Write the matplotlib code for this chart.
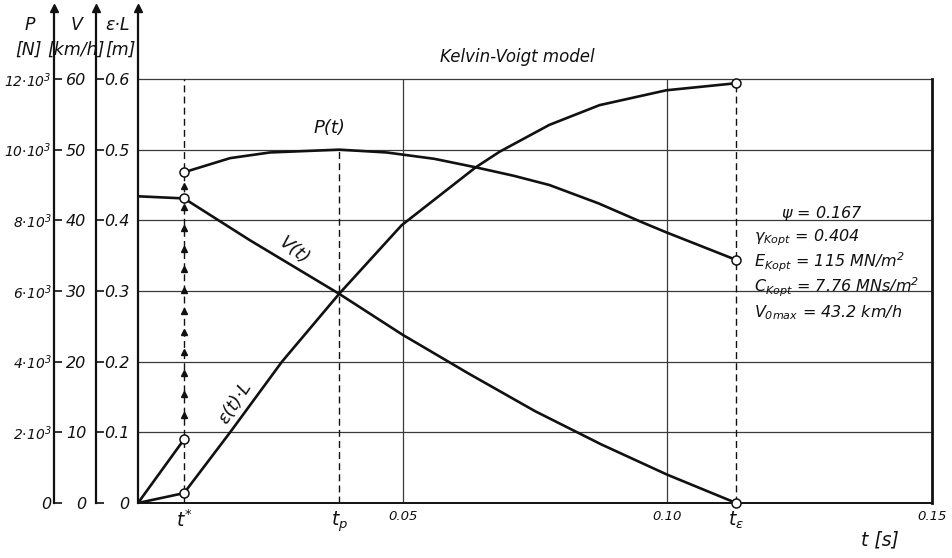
import numpy as np
import matplotlib
matplotlib.use("Agg")
import matplotlib.pyplot as plt
from matplotlib.transforms import ScaledTranslation

plt.rcParams["font.family"] = ["DejaVu Sans"]
plt.rcParams["font.style"] = "italic"
plt.rcParams["mathtext.fontset"] = "dejavusans"
plt.rcParams["mathtext.default"] = "it"

# characteristic times [s]
t_star = 0.0087
t_p = 0.038
t_eps = 0.113

# impact force P(t) [N]: loading branch and the branch after the jump at t*
p_load_t = [0.0, t_star]
p_load = [0, 1800]
p_t = [t_star, 0.0174, 0.0249, t_p, 0.047, 0.056, 0.0638, 0.071, 0.0777, 0.087, 0.0953, 0.0998, t_eps]
p_val = [9360, 9760, 9920, 10000, 9920, 9740, 9500, 9260, 9000, 8480, 7940, 7660, 6880]

# velocity V(t) [km/h]
v_t = [0.0, t_star, 0.0211, t_p, 0.05, 0.0625, 0.075, 0.0875, 0.10, t_eps]
v_val = [43.4, 43.1, 37.2, 29.6, 23.8, 18.3, 13.0, 8.3, 4.0, 0.0]

# deformation eps(t)*L [m]
e_t = [0.0, t_star, 0.0174, 0.0272, t_p, 0.0498, 0.0638, 0.0683, 0.0777, 0.0872, 0.0998, t_eps]
e_val = [0.0, 0.014, 0.10, 0.20, 0.296, 0.393, 0.475, 0.497, 0.535, 0.563, 0.584, 0.594]

# axis scales
e_ticks = [0, 0.1, 0.2, 0.3, 0.4, 0.5, 0.6]
e_labels = ["0", "0.1", "0.2", "0.3", "0.4", "0.5", "0.6"]
v_ticks = [0, 10, 20, 30, 40, 50, 60]
v_labels = ["0", "10", "20", "30", "40", "50", "60"]
p_ticks = [0, 2000, 4000, 6000, 8000, 10000, 12000]
p_labels = ["0", r"$2{\cdot}10^{3}$", r"$4{\cdot}10^{3}$", r"$6{\cdot}10^{3}$",
            r"$8{\cdot}10^{3}$", r"$10{\cdot}10^{3}$", r"$12{\cdot}10^{3}$"]
t_grid = [0.05, 0.10]
t_ticks = [t_star, t_p, 0.05, 0.10, t_eps, 0.15]
t_labels = [r"$t^{*}$", r"$t_p$", "0.05", "0.10", r"$t_\varepsilon$", "0.15"]

INK = "#111111"
GRID = "#3a3a3a"

fig = plt.figure(figsize=(9.52, 5.58), dpi=100)
W, H = 952, 558
x0, x1 = 138, 932
y0 = 503
px_per_unit = 706.7
ytop = 0.70
ax = fig.add_axes([x0 / W, 1 - y0 / H, (x1 - x0) / W, ytop * px_per_unit / H])
ax.set_xlim(0, 0.15)
ax.set_ylim(0, ytop)
ax.patch.set_alpha(0)

# grid
ax.hlines(e_ticks[1:], 0, 0.15, color=GRID, lw=0.9, zorder=1)
ax.vlines(t_grid, 0, 0.6, color=GRID, lw=0.9, zorder=1)

# frame
ax.spines["top"].set_visible(False)
ax.spines["right"].set_bounds(0, 0.6)
ax.spines["right"].set_linewidth(2.0)
ax.spines["left"].set_linewidth(1.6)
ax.spines["bottom"].set_linewidth(1.4)
for s in ["left", "right", "bottom"]:
    ax.spines[s].set_color(INK)

ax.set_yticks(e_ticks, e_labels)
ax.tick_params(axis="y", length=0, pad=6, labelsize=11.5, colors=INK)
ax.set_xticks(t_ticks, t_labels)
ax.tick_params(axis="x", length=0, pad=5, labelsize=9.5, colors=INK)
for lbl in ax.get_xticklabels():
    if "$" in lbl.get_text():
        lbl.set_fontsize(13.5)

# auxiliary vertical axes for V and P
def side_axis(offset_pt, lim, ticks, labels, pad, size):
    a = ax.twinx()
    a.set_ylim(0, lim)
    for s in ["top", "bottom", "right"]:
        a.spines[s].set_visible(False)
    a.spines["left"].set_visible(True)
    a.spines["left"].set_position(("outward", offset_pt))
    a.spines["left"].set_linewidth(1.6)
    a.spines["left"].set_color(INK)
    a.yaxis.set_ticks_position("left")
    a.yaxis.set_label_position("left")
    a.set_yticks(ticks, labels)
    a.tick_params(axis="y", direction="in", length=6, width=1.2, pad=pad,
                  labelsize=size, colors=INK)
    return a

off_v = 42 * 72 / 100
off_p = 84 * 72 / 100
axV = side_axis(off_v, ytop * 100, v_ticks, v_labels, 7, 11.5)
axP = side_axis(off_p, ytop * 20000, p_ticks, p_labels, 2, 10)
axP.get_yticklabels()[0].set_fontsize(11.5)

# arrow heads on the three vertical axes
for off in [0, off_v, off_p]:
    tr = ax.transAxes + ScaledTranslation(-off / 72, 0, fig.dpi_scale_trans)
    ax.plot([0], [1], marker="^", ms=6, color=INK, transform=tr, clip_on=False, zorder=5)

# dashed construction lines
dash = dict(color=INK, lw=1.0, linestyle=(0, (5, 3)), zorder=2)
ax.vlines(t_star, 0, 0.6, **dash)
ax.vlines(t_p, 0, 0.5, **dash)
ax.vlines(t_eps, 0, 0.6, **dash)

# force jump indicated by a column of arrow heads
jump_y = np.linspace(p_load[-1] / 20000 + 0.035, p_val[0] / 20000 - 0.02, 12)
ax.plot([t_star] * len(jump_y), jump_y, linestyle="none", marker="^", ms=4.5,
        color=INK, zorder=3)

# curves
lw = 1.9
axP.plot(p_load_t, p_load, color=INK, lw=lw, zorder=4)
axP.plot(p_t, p_val, color=INK, lw=lw, zorder=4)
axV.plot(v_t, v_val, color=INK, lw=lw, zorder=4)
ax.plot(e_t, e_val, color=INK, lw=lw, zorder=4)

ring = dict(linestyle="none", marker="o", ms=6.5, mfc="white", mec=INK, mew=1.1, zorder=6)
axP.plot([p_load_t[-1], p_t[0], p_t[-1]], [p_load[-1], p_val[0], p_val[-1]], **ring)
axV.plot([v_t[1], v_t[-1]], [v_val[1], v_val[-1]], clip_on=False, **ring)
ax.plot([e_t[1], e_t[-1]], [e_val[1], e_val[-1]], **ring)

# curve names
ax.text(0.0362, 0.530, "P(t)", fontsize=13, ha="center", va="center", color=INK)
ax.text(0.0294, 0.357, "V(t)", fontsize=13, ha="center", va="center",
        rotation=-38, color=INK)
ax.text(0.0183, 0.142, "ε(t)·L", fontsize=13, ha="center", va="center",
        rotation=57, color=INK)
ax.text(0.0717, 0.631, "Kelvin-Voigt model", fontsize=12, ha="center",
        va="center", color=INK)

# model parameters
par = dict(fontsize=11.5, va="center", color=INK)
ax.text(0.1215, 0.410, r"$\psi$ = 0.167", **par)
ax.text(0.1164, 0.376, r"$\gamma_{Kopt}$ = 0.404", **par)
ax.text(0.1164, 0.341, r"$E_{Kopt}$ = 115 MN/m$^2$", **par)
ax.text(0.1164, 0.305, r"$C_{Kopt}$ = 7.76 MNs/m$^2$", **par)
ax.text(0.1164, 0.270, r"$V_{0max}$ = 43.2 km/h", **par)

# axis headings
head = dict(fontsize=12.5, ha="center", va="center", color=INK)
fig.text(30 / W, 1 - 25 / H, "P", **head)
fig.text(29 / W, 1 - 50 / H, "[N]", **head)
fig.text(77 / W, 1 - 25 / H, "V", **head)
fig.text(76 / W, 1 - 50 / H, "[km/h]", **head)
fig.text(118 / W, 1 - 25 / H, "ε·L", **head)
fig.text(120 / W, 1 - 50 / H, "[m]", **head)
fig.text(880 / W, 1 - 540 / H, "t [s]", fontsize=13.5, ha="center", va="center", color=INK)

fig.savefig("out.png", dpi=100)
